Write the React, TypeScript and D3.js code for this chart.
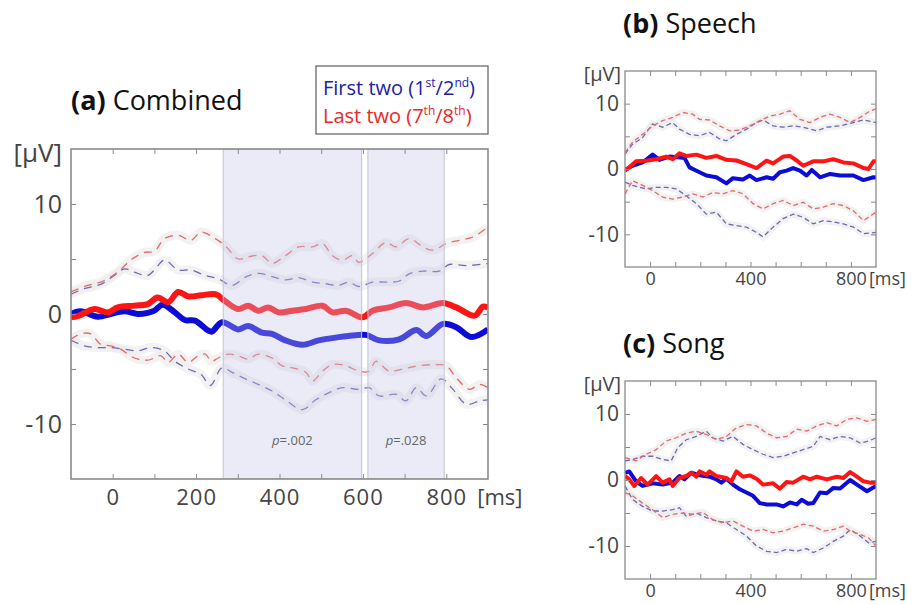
import React, { useEffect, useRef } from 'react';
import * as d3 from 'd3';

type Pt = [number, number];

// time axis is the same in every panel, ms
const timeDomain = [-100, 900];
const voltDomain = [-15, 15];
const combinedXLabels = [0, 200, 400, 600, 800];
const smallXLabels = [0, 400, 800];
const yLabels = [-10, 0, 10];
const sigWindows: Pt[] = [[265, 597], [612, 795]];
const sigP = ['.002', '.028'];

// (a) Combined
const combFirstMean: Pt[] = [[-100,0.0],[-77,0.24],[-36,-0.24],[-5,0.0],[28,0.24],[60,0.0],[84,0.1],[100,0.3],[120,0.85],[149,0.15],[173,-0.55],[197,-0.6],[229,-1.5],[238,-1.6],[262,-0.75],[301,-1.4],[325,-1.1],[358,-1.7],[382,-1.8],[414,-2.4],[455,-2.8],[494,-2.4],[542,-2.1],[565,-2.0],[607,-1.9],[639,-2.4],[687,-2.3],[728,-1.46],[752,-2.0],[792,-0.9],[824,-1.2],[860,-2.1],[900,-1.4]];
const combLastMean: Pt[] = [[-100,-0.3],[-84,-0.2],[-44,0.45],[-12,0.15],[12,0.6],[52,0.76],[84,0.9],[108,1.5],[133,1.07],[157,2.0],[181,1.6],[212,1.7],[246,1.8],[270,1.15],[301,0.45],[325,0.75],[349,0.3],[373,0.6],[398,0.15],[431,0.3],[463,0.45],[503,0.75],[527,0.15],[559,0.3],[599,-0.3],[623,0.3],[663,0.6],[703,1.0],[744,0.6],[792,1.0],[824,0.6],[868,-0.15],[888,0.67],[900,0.6]];
const combLastUpper: Pt[] = [[-100,2.0],[-60,2.6],[-29,2.9],[12,3.8],[43,4.9],[76,5.6],[100,5.7],[124,6.85],[157,7.15],[188,6.7],[212,7.45],[246,6.85],[270,6.2],[301,5.0],[325,5.2],[358,5.3],[382,4.6],[414,5.3],[446,6.1],[479,6.1],[503,6.4],[527,5.3],[551,4.9],[575,5.3],[590,4.7],[623,5.5],[655,6.5],[680,6.1],[711,6.85],[744,6.1],[768,5.8],[800,6.4],[831,6.7],[864,7.0],[900,7.9]];
const combFirstUpper: Pt[] = [[-100,1.8],[-68,2.3],[-29,2.7],[4,3.5],[28,4.1],[52,3.8],[84,3.5],[100,4.0],[124,4.9],[157,4.0],[188,4.0],[222,3.5],[253,3.2],[286,2.6],[318,3.35],[349,3.7],[382,3.4],[414,3.1],[446,3.3],[479,2.9],[511,2.75],[542,2.6],[566,2.9],[590,2.5],[623,2.9],[655,2.9],[687,3.0],[711,3.65],[744,3.9],[783,3.9],[807,4.5],[848,4.4],[900,4.6]];
const combLastLower: Pt[] = [[-100,-2.3],[-77,-1.8],[-53,-1.8],[-29,-2.75],[-5,-2.9],[19,-3.2],[52,-4.0],[84,-4.2],[116,-3.8],[133,-4.4],[157,-3.65],[181,-4.4],[205,-3.8],[222,-3.65],[237,-4.3],[253,-4.0],[277,-3.65],[301,-3.8],[325,-4.1],[349,-3.65],[382,-4.0],[406,-4.7],[431,-4.9],[463,-5.3],[479,-6.1],[503,-5.2],[527,-4.6],[559,-4.7],[590,-5.2],[615,-5.2],[631,-4.3],[663,-5.2],[695,-5.0],[735,-4.7],[776,-4.6],[800,-4.7],[824,-5.8],[856,-6.85],[880,-6.4],[900,-6.7]];
const combFirstLower: Pt[] = [[-100,-2.4],[-68,-2.9],[-36,-3.05],[-5,-3.05],[28,-3.2],[60,-3.35],[92,-3.05],[124,-3.35],[149,-4.3],[181,-5.0],[212,-5.5],[234,-6.5],[262,-4.9],[286,-5.3],[318,-5.9],[349,-6.4],[382,-7.0],[414,-7.8],[455,-8.7],[487,-7.8],[519,-7.15],[551,-6.7],[590,-6.85],[615,-6.7],[639,-7.45],[680,-7.3],[703,-7.9],[728,-6.7],[752,-7.45],[788,-5.9],[816,-6.85],[848,-8.2],[880,-7.9],[900,-7.8]];

// (b) Speech
const speechLastMean: Pt[] = [[-100,-0.25],[-83,0.25],[-56,1.17],[-16,1.27],[24,1.5],[64,1.9],[90,1.5],[117,2.4],[144,2.0],[184,2.2],[224,1.7],[264,2.0],[304,1.4],[344,1.3],[384,0.76],[424,0.15],[464,1.27],[490,0.86],[530,1.9],[557,2.0],[584,1.3],[610,0.5],[650,1.17],[690,1.17],[730,1.5],[770,1.0],[810,0.86],[850,0.15],[870,0.0],[890,1.17],[900,1.2]];
const speechFirstMean: Pt[] = [[-100,-0.15],[-70,0.5],[-30,1.0],[10,2.2],[37,1.4],[77,1.9],[110,1.8],[137,1.7],[157,0.25],[197,-0.5],[224,-1.0],[264,-1.27],[304,-2.2],[330,-1.4],[370,-1.6],[397,-1.0],[424,-1.7],[464,-1.27],[490,-1.5],[517,-0.5],[544,-0.25],[570,0.15],[597,-0.25],[624,-1.0],[644,-0.15],[677,-1.27],[717,-0.76],[757,-1.0],[810,-1.0],[850,-1.7],[890,-1.27],[900,-1.3]];
const speechLastUpper: Pt[] = [[-100,2.5],[-70,4.1],[-30,5.3],[10,6.6],[50,7.4],[90,7.9],[130,8.65],[170,8.4],[197,7.6],[237,7.5],[277,6.6],[317,5.85],[357,5.95],[397,6.6],[437,7.4],[477,8.1],[517,8.4],[557,8.9],[597,7.6],[637,7.1],[677,7.9],[717,8.4],[757,7.9],[797,7.1],[837,7.9],[877,8.9],[900,9.2]];
const speechFirstUpper: Pt[] = [[-100,2.3],[-70,3.8],[-30,4.8],[10,6.9],[50,6.4],[90,7.1],[117,6.1],[157,5.3],[197,5.1],[237,5.6],[277,4.6],[304,4.3],[344,5.3],[384,6.1],[424,7.1],[450,7.5],[490,6.6],[530,6.4],[570,6.6],[610,6.4],[664,5.85],[704,6.4],[757,6.6],[810,7.1],[850,7.5],[900,7.1]];
const speechLastLower: Pt[] = [[-100,-3.8],[-70,-1.8],[-30,-2.5],[10,-3.3],[50,-4.3],[90,-4.6],[130,-4.3],[170,-3.8],[210,-4.3],[250,-3.6],[290,-3.8],[330,-3.3],[370,-3.8],[410,-5.3],[450,-6.1],[490,-5.3],[530,-4.8],[570,-5.6],[610,-5.1],[650,-6.1],[690,-5.85],[730,-5.3],[770,-5.6],[810,-6.4],[850,-7.9],[900,-6.6]];
const speechFirstLower: Pt[] = [[-100,-2.0],[-70,-2.5],[-16,-3.05],[24,-2.8],[64,-2.8],[104,-3.05],[144,-4.1],[184,-5.3],[224,-6.9],[264,-6.6],[304,-8.4],[344,-8.65],[384,-8.9],[424,-9.7],[450,-10.4],[490,-8.9],[530,-7.6],[570,-6.9],[610,-7.4],[650,-8.4],[690,-7.9],[730,-8.1],[770,-8.4],[810,-8.9],[850,-9.9],[900,-9.7]];

// (c) Song
const songLastMean: Pt[] = [[-100,0.6],[-83,0.1],[-63,-0.9],[-36,0.3],[-10,-0.7],[24,0.6],[50,-0.4],[77,0.1],[90,-0.9],[117,0.3],[144,0.6],[164,1.1],[184,0.5],[197,1.3],[224,0.8],[237,1.3],[264,0.6],[304,0.3],[324,-0.2],[344,1.3],[370,0.5],[397,0.7],[424,0.2],[450,-0.7],[490,-0.5],[517,-1.3],[544,-0.3],[570,-0.4],[610,0.5],[637,0.1],[664,0.5],[704,0.1],[744,0.5],[770,0.3],[797,1.2],[824,0.5],[850,-0.2],[877,-0.4],[900,-0.4]];
const songFirstMean: Pt[] = [[-100,1.1],[-83,1.3],[-56,-0.2],[-30,-0.9],[10,-0.5],[50,-0.7],[90,-0.4],[117,0.6],[137,0.1],[164,1.1],[197,0.7],[237,0.5],[264,0.1],[284,-0.4],[304,0.2],[330,-0.7],[357,-1.4],[384,-1.9],[410,-2.4],[437,-3.5],[464,-3.7],[504,-3.7],[530,-4.0],[557,-3.4],[584,-3.7],[604,-3.0],[630,-3.6],[650,-3.5],[677,-1.9],[704,-2.0],[730,-1.2],[757,-1.3],[797,0.0],[824,-0.7],[864,-1.7],[900,-0.9]];
const songLastUpper: Pt[] = [[-100,3.4],[-56,2.9],[-16,3.9],[24,4.6],[64,5.9],[104,6.4],[144,7.1],[184,7.4],[224,6.9],[264,6.1],[304,6.6],[344,7.9],[384,8.4],[424,8.2],[464,7.1],[504,6.4],[544,6.6],[584,7.7],[624,7.4],[664,8.2],[704,8.7],[744,8.2],[784,9.2],[824,9.4],[864,8.9],[900,9.2]];
const songFirstUpper: Pt[] = [[-100,2.9],[-70,3.1],[-30,3.6],[10,3.6],[50,3.1],[84,2.9],[110,4.9],[144,6.1],[184,6.6],[224,7.4],[250,6.4],[290,5.9],[330,6.6],[370,5.4],[410,4.6],[450,3.9],[490,3.4],[530,3.6],[570,4.1],[610,4.6],[650,5.1],[677,6.6],[717,6.1],[757,6.6],[797,6.4],[837,5.6],[870,5.9],[900,6.4]];
const songLastLower: Pt[] = [[-100,-1.9],[-70,-2.4],[-30,-3.5],[10,-4.5],[50,-5.7],[90,-5.2],[130,-5.0],[170,-5.2],[210,-4.9],[250,-6.0],[290,-6.5],[330,-6.2],[370,-7.0],[410,-7.75],[450,-7.5],[490,-8.0],[530,-7.75],[570,-7.25],[610,-6.7],[650,-7.0],[690,-7.75],[730,-7.5],[770,-7.0],[797,-7.75],[837,-8.25],[870,-8.75],[900,-10.0]];
const songFirstLower: Pt[] = [[-100,-0.9],[-70,-2.95],[-30,-4.0],[10,-4.7],[50,-4.7],[90,-4.5],[117,-4.2],[144,-5.5],[184,-5.0],[224,-5.7],[264,-6.2],[304,-6.5],[344,-7.5],[384,-8.5],[424,-10.0],[464,-10.8],[504,-11.0],[544,-10.5],[584,-10.8],[624,-10.4],[650,-11.0],[690,-10.3],[730,-9.3],[770,-8.5],[797,-7.5],[837,-8.5],[870,-9.5],[900,-9.3]];

const BLUE = '#0c0cd6';
const RED = '#ff1414';
const BLUE_DASH = '#6a6ab4';
const RED_DASH = '#e46a6a';
const FONT = "'Open Sans', 'DejaVu Sans', sans-serif";

const drawPanel = (svg, cfg) => {
  const { id, box, big, first, last, windows } = cfg;
  const x = d3.scaleLinear().domain(timeDomain).range([box.x0, box.x1]);
  const y = d3.scaleLinear().domain(voltDomain).range([box.y1, box.y0]);
  const g = svg.append('g');

  g.append('clipPath').attr('id', 'clip-' + id)
    .append('rect')
    .attr('x', box.x0).attr('y', box.y0)
    .attr('width', box.x1 - box.x0).attr('height', box.y1 - box.y0);
  const plot = g.append('g').attr('clip-path', `url(#clip-${id})`);

  const line = d3.line<Pt>()
    .x(d => x(d[0]))
    .y(d => y(d[1]))
    .curve(big ? d3.curveCatmullRom.alpha(0.5) : d3.curveLinear);

  const bounds = [
    { data: first.upper, color: BLUE_DASH },
    { data: first.lower, color: BLUE_DASH },
    { data: last.upper, color: RED_DASH },
    { data: last.lower, color: RED_DASH },
  ];
  // faint glow around the CI lines
  bounds.forEach(b => {
    plot.append('path').datum(b.data).attr('d', line)
      .attr('fill', 'none').attr('stroke', '#ededed')
      .attr('stroke-width', big ? 9 : 7).attr('stroke-opacity', 0.7);
  });
  bounds.forEach(b => {
    plot.append('path').datum(b.data).attr('d', line)
      .attr('fill', 'none').attr('stroke', b.color)
      .attr('stroke-width', 1.3)
      .attr('stroke-dasharray', big ? '8,6' : '5,3');
  });

  plot.append('path').datum(first.mean).attr('d', line)
    .attr('fill', 'none').attr('stroke', BLUE)
    .attr('stroke-width', big ? 6 : 4).attr('stroke-linejoin', 'round');
  plot.append('path').datum(last.mean).attr('d', line)
    .attr('fill', 'none').attr('stroke', RED)
    .attr('stroke-width', big ? 6 : 4).attr('stroke-linejoin', 'round');

  // significance windows, drawn over the traces like a transparent patch
  (windows || []).forEach(([a, b], i) => {
    plot.append('rect')
      .attr('x', x(a)).attr('y', box.y0)
      .attr('width', x(b) - x(a)).attr('height', box.y1 - box.y0)
      .attr('fill', '#c2c2e8').attr('fill-opacity', 0.33)
      .attr('stroke', '#c4c4d8').attr('stroke-width', 1);
    const t = g.append('text')
      .attr('x', (x(a) + x(b)) / 2).attr('y', 445)
      .attr('text-anchor', 'middle')
      .attr('font-family', FONT).attr('font-size', 13).attr('fill', '#666');
    t.append('tspan').attr('font-style', 'italic').text('p');
    t.append('tspan').text('=' + sigP[i]);
  });

  const xTickVals = d3.range(0, 900, 100);
  const yTickVals = d3.range(-10, 15, 5);
  const xLabels = big ? combinedXLabels : smallXLabels;
  const axisColor = '#8a8a8a';
  const xPad = big ? 10 : 5;
  const xFont = big ? 22 : 18;

  const styleAxis = sel => {
    sel.select('.domain').remove();
    sel.selectAll('line').attr('stroke', axisColor).attr('stroke-width', 1);
    sel.selectAll('text').attr('fill', '#444').attr('font-family', FONT);
  };

  g.append('g').attr('transform', `translate(0,${box.y1})`)
    .call(d3.axisBottom(x).tickValues(xTickVals).tickSize(-5).tickPadding(xPad)
      .tickFormat(d => (xLabels.includes(+d) ? String(d) : '')))
    .call(styleAxis)
    .call(s => s.selectAll('text').attr('font-size', xFont).attr('letter-spacing', big ? 1 : 0));
  g.append('g').attr('transform', `translate(0,${box.y0})`)
    .call(d3.axisTop(x).tickValues(xTickVals).tickSize(-5).tickFormat(() => ''))
    .call(styleAxis);
  g.append('g').attr('transform', `translate(${box.x0},0)`)
    .call(d3.axisLeft(y).tickValues(yTickVals).tickSize(-5).tickPadding(big ? 9 : 6)
      .tickFormat(d => (yLabels.includes(+d) ? String(d) : '')))
    .call(styleAxis)
    .call(s => s.selectAll('text').attr('font-size', big ? 25 : 21));
  g.append('g').attr('transform', `translate(${box.x1},0)`)
    .call(d3.axisRight(y).tickValues(yTickVals).tickSize(-5).tickFormat(() => ''))
    .call(styleAxis);

  g.append('rect')
    .attr('x', box.x0).attr('y', box.y0)
    .attr('width', box.x1 - box.x0).attr('height', box.y1 - box.y0)
    .attr('fill', 'none').attr('stroke', axisColor).attr('stroke-width', big ? 1.6 : 1.3);

  // units
  g.append('text')
    .attr('x', box.x0 - (big ? 9 : 4)).attr('y', box.y0 + (big ? 13 : 10))
    .attr('text-anchor', 'end')
    .attr('font-family', FONT).attr('font-size', big ? 26 : 20).attr('fill', '#444')
    .text('[μV]');
  g.append('text')
    .attr('x', x(800) + (big ? 31 : 18)).attr('y', box.y1 + xPad)
    .attr('dy', '0.71em')
    .attr('font-family', FONT).attr('font-size', xFont).attr('fill', '#444')
    .text('[ms]');

  // panel title
  const title = g.append('text')
    .attr('x', cfg.titleX).attr('y', cfg.titleY)
    .attr('font-family', FONT).attr('font-size', 27).attr('fill', '#111');
  title.append('tspan').attr('font-weight', 'bold').text(`(${id}) `);
  title.append('tspan').text(cfg.title);
};

const drawLegend = svg => {
  const g = svg.append('g');
  g.append('rect').attr('x', 316).attr('y', 66).attr('width', 172).attr('height', 68)
    .attr('fill', '#fff').attr('stroke', '#6a6a6a').attr('stroke-width', 1.3);
  const rows = [
    { color: '#2020a8', parts: ['First two (1', 'st', '/2', 'nd', ')'], y: 95 },
    { color: '#e82828', parts: ['Last two (7', 'th', '/8', 'th', ')'], y: 123 },
  ];
  rows.forEach(r => {
    const t = g.append('text').attr('x', 323).attr('y', r.y)
      .attr('font-family', FONT).attr('font-size', 20).attr('fill', r.color);
    r.parts.forEach((p, i) => {
      const sup = i % 2 === 1;
      t.append('tspan')
        .attr('font-size', sup ? 12 : 20)
        .attr('dy', sup ? -8 : (i > 0 ? 8 : 0))
        .text(p);
    });
  });
};

const App = () => {
  const svgRef = useRef(null);

  useEffect(() => {
    const svg = d3.select(svgRef.current);
    svg.selectAll('*').remove();

    drawPanel(svg, {
      id: 'a', title: 'Combined', big: true, titleX: 71, titleY: 110,
      box: { x0: 71, x1: 488, y0: 149, y1: 479 },
      first: { mean: combFirstMean, upper: combFirstUpper, lower: combFirstLower },
      last: { mean: combLastMean, upper: combLastUpper, lower: combLastLower },
      windows: sigWindows,
    });
    drawPanel(svg, {
      id: 'b', title: 'Speech', big: false, titleX: 623, titleY: 33,
      box: { x0: 625, x1: 876, y0: 71, y1: 267 },
      first: { mean: speechFirstMean, upper: speechFirstUpper, lower: speechFirstLower },
      last: { mean: speechLastMean, upper: speechLastUpper, lower: speechLastLower },
    });
    drawPanel(svg, {
      id: 'c', title: 'Song', big: false, titleX: 623, titleY: 353,
      box: { x0: 625, x1: 876, y0: 381, y1: 579 },
      first: { mean: songFirstMean, upper: songFirstUpper, lower: songFirstLower },
      last: { mean: songLastMean, upper: songLastUpper, lower: songLastLower },
    });
    drawLegend(svg);
  }, []);

  return (
    <svg
      ref={svgRef}
      width={916}
      height={604}
      style={{ position: 'absolute', left: 0, top: 0, background: '#fff' }}
    />
  );
};

export default App;
